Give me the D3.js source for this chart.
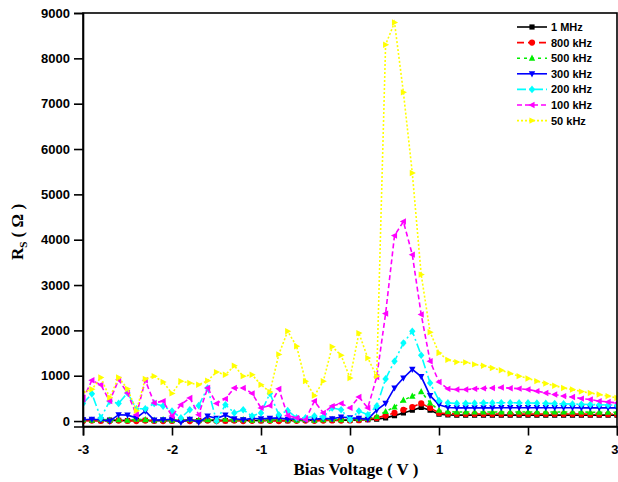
<!DOCTYPE html>
<html>
<head>
<meta charset="utf-8">
<script src="https://cdn.jsdelivr.net/npm/d3@7"></script>
<style>
  body { margin: 0; background: #fff; }
  svg { display: block; }
</style>
</head>
<body>
<svg id="chart" width="618" height="482"></svg>
<script>
// Bias voltage sweep (V)
const biasVoltage = [
  -3.0, -2.9, -2.8, -2.7, -2.6, -2.5, -2.4, -2.3, -2.2, -2.1,
  -2.0, -1.9, -1.8, -1.7, -1.6, -1.5, -1.4, -1.3, -1.2, -1.1,
  -1.0, -0.9, -0.8, -0.7, -0.6, -0.5, -0.4, -0.3, -0.2, -0.1,
   0.0,  0.1,  0.2,  0.3,  0.4,  0.5,  0.6,  0.7,  0.8,  0.9,
   1.0,  1.1,  1.2,  1.3,  1.4,  1.5,  1.6,  1.7,  1.8,  1.9,
   2.0,  2.1,  2.2,  2.3,  2.4,  2.5,  2.6,  2.7,  2.8,  2.9, 3.0
];

// Series resistance Rs (ohm) at each frequency
const rs1MHz = [
  20, 15, 10, 20, 15, 10, 20, 15, 10, 15,
  10, 15, 20, 10, 15, 20, 10, 15, 20, 15,
  10, 20, 15, 10, 20, 15, 20, 25, 20, 25,
  20, 25, 30, 40, 70, 120, 180, 240, 300, 240,
  150, 135, 130, 130, 130, 130, 130, 130, 130, 130,
  130, 130, 130, 130, 130, 130, 130, 130, 130, 130, 130
];
const rs800kHz = [
  0, 10, 5, 0, 10, 5, 0, 10, 5, 0,
  5, 10, 0, 5, 10, 0, 5, 10, 0, 5,
  10, 5, 0, 10, 5, 10, 5, 10, 15, 10,
  15, 20, 40, 70, 120, 180, 250, 310, 390, 290,
  180, 160, 155, 155, 155, 155, 155, 155, 155, 155,
  155, 155, 155, 155, 155, 155, 155, 150, 150, 150, 150
];
const rs500kHz = [
  30, 20, 40, 20, 30, 20, 40, 30, 20, 30,
  20, 30, 40, 20, 30, 20, 40, 30, 30, 20,
  30, 20, 40, 30, 20, 30, 20, 30, 40, 30,
  40, 50, 60, 100, 210, 310, 460, 550, 650, 400,
  240, 205, 200, 200, 200, 200, 200, 200, 200, 200,
  200, 200, 200, 200, 200, 200, 200, 195, 195, 195, 195
];
const rs300kHz = [
  30, 40, 30, 0, 140, 130, 70, 220, 20, 30,
  40, -30, 40, -30, 110, 60, 130, 50, 30, 60,
  50, 60, 70, 40, 50, 30, 40, 60, 50, 90,
  70, 60, 40, 240, 390, 730, 950, 1140, 980, 560,
  360, 300, 290, 290, 290, 290, 290, 295, 295, 295,
  295, 295, 295, 295, 295, 295, 290, 290, 290, 290, 290
];
const rs200kHz = [
  390, 600, 70, 440, 390, 620, 270, 270, 390, 330,
  220, 70, 250, 340, 730, 0, 360, 180, 250, 110,
  180, 610, 140, 230, 70, 70, 110, 90, 290, 250,
  30, 220, 140, 330, 930, 1320, 1720, 1980, 1450, 840,
  450, 400, 390, 390, 395, 400, 400, 405, 405, 400,
  400, 395, 390, 385, 380, 375, 370, 365, 360, 355, 350
];
const rs100kHz = [
  480, 900, 800, 440, 910, 620, 140, 900, 400, 440,
  110, 360, 510, 140, 730, 390, 490, 730, 730, 610,
  290, 340, 710, 120, 70, 30, 440, 180, 330, 390,
  290, 530, 290, 970, 2370, 4090, 4400, 3670, 2350, 1320,
  860, 710, 695, 695, 710, 720, 730, 740, 725, 715,
  695, 660, 620, 585, 550, 530, 495, 475, 440, 420, 400
];
const rs50kHz = [
  640, 700, 960, 520, 960, 710, 230, 930, 990, 860,
  610, 880, 840, 800, 890, 1080, 1020, 1220, 990, 1020,
  800, 640, 1470, 1980, 1650, 880, 560, 880, 1640, 1450,
  950, 1940, 1390, 990, 8300, 8790, 7250, 5470, 3230, 1960,
  1500, 1350, 1300, 1295, 1250, 1220, 1170, 1120, 1050, 990,
  940, 880, 830, 780, 730, 695, 650, 620, 585, 550, 510
];

const seriesNames = ["1 MHz", "800 kHz", "500 kHz", "300 kHz", "200 kHz", "100 kHz", "50 kHz"];
const xTickValues = [-3, -2, -1, 0, 1, 2, 3];
const yTickValues = [0, 1000, 2000, 3000, 4000, 5000, 6000, 7000, 8000, 9000];

const seriesValues = [rs1MHz, rs800kHz, rs500kHz, rs300kHz, rs200kHz, rs100kHz, rs50kHz];
const seriesColors = ["#000000", "#ff0000", "#00ee00", "#0000ff", "#00ffff", "#ff00ff", "#ffff00"];
const seriesDashes = [null, "7,4", "3,4", null, "9,3,2,3", "5,3", "2,2"];
const seriesMarkers = ["square", "circle", "up", "down", "diamond", "left", "right"];

const svg = d3.select("#chart");
const plot = { left: 83, right: 617, top: 13, bottom: 426.5 };

const x = d3.scaleLinear().domain([-3, 3]).range([plot.left, plot.right]);
const y = d3.scaleLinear().domain([-120, 9000]).range([plot.bottom, plot.top]);

// Marker path generators, centred at origin
function markerPath(kind) {
  const s = 3.2;
  switch (kind) {
    case "square":  return `M${-2.6},${-2.6}h5.2v5.2h-5.2Z`;
    case "circle":  return d3.symbol(d3.symbolCircle, 30)();
    case "up":      return `M0,${-s - 0.4}L${s},${s * 0.8}L${-s},${s * 0.8}Z`;
    case "down":    return `M0,${s + 0.4}L${s},${-s * 0.8}L${-s},${-s * 0.8}Z`;
    case "left":    return `M${-s - 0.4},0L${s * 0.8},${-s}L${s * 0.8},${s}Z`;
    case "right":   return `M${s + 0.4},0L${-s * 0.8},${-s}L${-s * 0.8},${s}Z`;
    case "diamond": return `M0,${-s - 0.6}L${s},0L0,${s + 0.6}L${-s},0Z`;
  }
}

const series = seriesNames.map((name, i) => ({
  name,
  color: seriesColors[i],
  dash: seriesDashes[i],
  marker: seriesMarkers[i],
  points: biasVoltage.map((v, j) => ({ v, r: seriesValues[i][j] }))
}));

const line = d3.line().x(d => x(d.v)).y(d => y(d.r));

svg.append("defs").append("clipPath").attr("id", "plotClip")
  .append("rect")
  .attr("x", plot.left).attr("y", plot.top)
  .attr("width", plot.right - plot.left).attr("height", plot.bottom - plot.top);

const dataLayer = svg.append("g").attr("clip-path", "url(#plotClip)");

series.forEach(s => {
  const g = dataLayer.append("g");
  g.append("path")
    .datum(s.points)
    .attr("fill", "none")
    .attr("stroke", s.color)
    .attr("stroke-width", 1.6)
    .attr("stroke-dasharray", s.dash)
    .attr("d", line);
  g.selectAll("path.mk")
    .data(s.points)
    .join("path")
    .attr("class", "mk")
    .attr("d", markerPath(s.marker))
    .attr("transform", d => `translate(${x(d.v)},${y(d.r)})`)
    .attr("fill", s.color)
    .attr("stroke", "none");
});

// Frame
svg.append("rect")
  .attr("x", plot.left).attr("y", plot.top)
  .attr("width", plot.right - plot.left).attr("height", plot.bottom - plot.top)
  .attr("fill", "none").attr("stroke", "#000").attr("stroke-width", 1.6);

// Axes (plain hyphen for negative tick labels)
const tickFont = "'Liberation Sans', Arial, sans-serif";
const plainFormat = d => String(d);
const xAxis = svg.append("g")
  .attr("transform", `translate(0,${plot.bottom})`)
  .call(d3.axisBottom(x).tickValues(xTickValues).tickFormat(plainFormat).tickSize(9).tickPadding(9));
const yAxis = svg.append("g")
  .attr("transform", `translate(${plot.left},0)`)
  .call(d3.axisLeft(y).tickValues(yTickValues).tickFormat(plainFormat).tickSize(9).tickPadding(4));

[xAxis, yAxis].forEach(a => {
  a.select(".domain").attr("stroke", "#000").attr("stroke-width", 1.6);
  a.selectAll(".tick line").attr("stroke", "#000").attr("stroke-width", 1.6);
  a.selectAll(".tick text")
    .attr("font-family", tickFont)
    .attr("font-weight", "bold")
    .attr("font-size", 13)
    .attr("fill", "#000");
});

// Keep the last x label inside the page edge
xAxis.selectAll(".tick text")
  .filter(d => d === xTickValues[xTickValues.length - 1])
  .attr("text-anchor", "end")
  .attr("x", 1);

// Axis titles
const titleFont = "'Liberation Serif', 'Times New Roman', serif";
svg.append("text")
  .attr("x", 356).attr("y", 475)
  .attr("text-anchor", "middle")
  .attr("font-family", titleFont)
  .attr("font-weight", "bold")
  .attr("font-size", 17)
  .text("Bias Voltage ( V )");

const yTitle = svg.append("text")
  .attr("transform", "translate(23,232) rotate(-90)")
  .attr("text-anchor", "middle")
  .attr("font-family", titleFont)
  .attr("font-weight", "bold")
  .attr("font-size", 17);
yTitle.append("tspan").text("R");
yTitle.append("tspan").attr("font-size", 11).attr("dy", 4).text("S");
yTitle.append("tspan").attr("dy", -4).text(" ( Ω )");

// Legend
const legend = svg.append("g");
series.forEach((s, i) => {
  const ly = 27 + i * 15.6;
  const row = legend.append("g").attr("transform", `translate(0,${ly})`);
  row.append("line")
    .attr("x1", 517).attr("x2", 547).attr("y1", 0).attr("y2", 0)
    .attr("stroke", s.color).attr("stroke-width", 1.6)
    .attr("stroke-dasharray", s.dash);
  row.append("path")
    .attr("d", markerPath(s.marker))
    .attr("transform", "translate(532,0)")
    .attr("fill", s.color);
  row.append("text")
    .attr("x", 551).attr("y", 0).attr("dy", "0.36em")
    .attr("font-family", tickFont)
    .attr("font-weight", "bold")
    .attr("font-size", 11)
    .text(s.name);
});
</script>
</body>
</html>
